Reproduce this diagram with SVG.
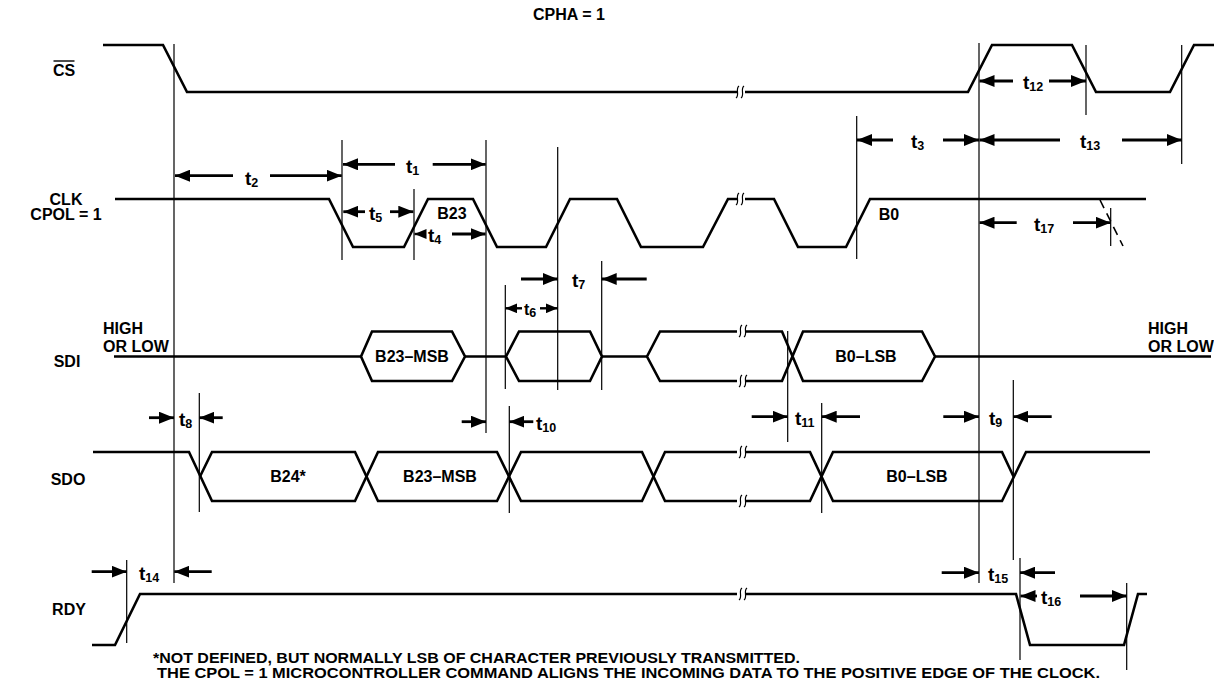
<svg xmlns="http://www.w3.org/2000/svg" width="1214" height="690" viewBox="0 0 1214 690">
<style>
.sig{fill:none;stroke:#000;stroke-width:2.6;stroke-linejoin:miter}
.ref{fill:none;stroke:#000;stroke-width:1.2}
.arr{fill:none;stroke:#000;stroke-width:2.8;marker-end:url(#ah)}
.arrs{fill:none;stroke:#000;stroke-width:2.4;marker-end:url(#ahs)}
.brk{fill:none;stroke:#000;stroke-width:1.2}
.gap{fill:#fff;stroke:none}
text{font-family:"Liberation Sans",Arial,sans-serif;font-weight:bold;fill:#000}
.lbl{font-size:16px}
.fn{font-size:14.5px}
.t{font-size:19px}
.sub{font-size:12.5px}
</style>
<defs>
<marker id="ah" markerUnits="userSpaceOnUse" markerWidth="15" markerHeight="12" refX="15" refY="6" orient="auto"><path d="M0,0 L15,6 L0,12 Z" fill="#000"/></marker>
<marker id="ahs" markerUnits="userSpaceOnUse" markerWidth="12" markerHeight="10" refX="12" refY="5" orient="auto"><path d="M0,0 L12,5 L0,10 Z" fill="#000"/></marker>
</defs>

<text class="lbl" x="569" y="20" text-anchor="middle">CPHA = 1</text>

<g id="sig-cs">
<text class="lbl" x="64" y="76" text-anchor="middle">CS</text>
<line x1="53.5" y1="61" x2="74.5" y2="61" stroke="#000" stroke-width="1.4"/>
<path class="sig" d="M103,45 L163,45 L187,92 L968,92 L992,45 L1072,45 L1096,92 L1170,92 L1194,45 L1214,45"/>
</g>

<g id="sig-clk">
<text class="lbl" x="66" y="205" text-anchor="middle">CLK</text>
<text class="lbl" x="66" y="220" text-anchor="middle">CPOL = 1</text>
<path class="sig" d="M115,199 L329,199 L353,247 L404,247 L428,199 L473,199 L497,247 L546,247 L570,199 L617,199 L641,247 L703,247 L728,199 L774,199 L798,247 L846,247 L870,199 L1146,199"/>
<path fill="none" stroke="#000" stroke-width="1.6" stroke-dasharray="9,6" d="M1100,200 L1123,246"/>
<text class="lbl" x="452" y="219" text-anchor="middle">B23</text>
<text class="lbl" x="889" y="220" text-anchor="middle">B0</text>
</g>

<g id="sig-sdi">
<text class="lbl" x="67" y="367" text-anchor="middle">SDI</text>
<text class="lbl" x="103" y="334">HIGH</text>
<text class="lbl" x="103" y="352">OR LOW</text>
<text class="lbl" x="1148" y="334">HIGH</text>
<text class="lbl" x="1148" y="352">OR LOW</text>
<path class="sig" d="M114,356.5 L361,356.5 M465,356.5 L506,356.5 M602,356.5 L647,356.5 M935,356.5 L1211,356.5"/>
<path class="sig" d="M361,356.5 L372,331.5 L452,331.5 L465,356.5 L452,381 L372,381 Z"/>
<path class="sig" d="M506,356.5 L519,331.5 L590,331.5 L602,356.5 L590,381 L519,381 Z"/>
<path class="sig" d="M647,356.5 L660,331.5 L782,331.5 L803,381 L922,381 L935,356.5 L922,331.5 L803,331.5 L782,381 L660,381 Z"/>
<text class="lbl" x="412" y="362" text-anchor="middle">B23–MSB</text>
<text class="lbl" x="866" y="362" text-anchor="middle">B0–LSB</text>
</g>

<g id="sig-sdo">
<text class="lbl" x="68" y="485" text-anchor="middle">SDO</text>
<path class="sig" d="M93,452 L189,452 L212,501 L355,501 L378,452 L497,452 L521,501 L642,501 L665,452 L810,452 L833,501 L1002,501 L1026,452 L1150,452"/>
<path class="sig" d="M200,476.5 L212,452 L355,452 L378,501 L497,501 L521,452 L642,452 L665,501 L810,501 L833,452 L1002,452 L1013.5,476.5"/>
<text class="lbl" x="288" y="482" text-anchor="middle">B24*</text>
<text class="lbl" x="440" y="482" text-anchor="middle">B23–MSB</text>
<text class="lbl" x="917" y="482" text-anchor="middle">B0–LSB</text>
</g>

<g id="sig-rdy">
<text class="lbl" x="69" y="615" text-anchor="middle">RDY</text>
<path class="sig" d="M92,645 L115,645 L140,594 L1016,594 L1030,645 L1124,645 L1138,594 L1147,594"/>
</g>

<g id="breaks">
<rect class="gap" x="737" y="86" width="8" height="12"/>
<rect class="gap" x="737" y="193" width="8" height="12"/>
<rect class="gap" x="737" y="325" width="8" height="12"/>
<rect class="gap" x="737" y="375" width="8" height="12"/>
<rect class="gap" x="737" y="446" width="8" height="12"/>
<rect class="gap" x="737" y="495" width="8" height="12"/>
<rect class="gap" x="737" y="588" width="8" height="12"/>
<path class="brk" d="M739,86 C735,89 740,95 736,98 M744,86 C740,89 745,95 741,98"/>
<path class="brk" d="M739,193 C735,196 740,202 736,205 M744,193 C740,196 745,202 741,205"/>
<path class="brk" d="M742,325 C738,328 743,334 739,337 M747,325 C743,328 748,334 744,337"/>
<path class="brk" d="M742,375 C738,378 743,384 739,387 M747,375 C743,378 748,384 744,387"/>
<path class="brk" d="M742,446 C738,449 743,455 739,458 M747,446 C743,449 748,455 744,458"/>
<path class="brk" d="M742,495 C738,498 743,504 739,507 M747,495 C743,498 748,504 744,507"/>
<path class="brk" d="M742,588 C738,591 743,597 739,600 M747,588 C743,591 748,597 744,600"/>
</g>

<g id="connectors">
<path class="ref" d="M174,44 V583 M342,140 V260 M414,189 V260 M486,140 V433 M199.3,393 V512 M505.3,285 V389 M557.7,147 V390 M601.7,261 V390 M509.3,406 V513 M787.7,331 V442 M821.7,403 V513 M856.7,116 V259 M979,43 V583 M1086,45 V115 M1181.7,45 V164 M1110.7,208 V246 M1013.3,380 V560 M1020,558 V660 M1126.7,583 V670 M126.7,560 V643"/>
<line class="arr" x1="233" y1="175.7" x2="175" y2="175.7"/>
<line class="arr" x1="270" y1="175.7" x2="341.7" y2="175.7"/>
<line class="arr" x1="395" y1="164.3" x2="343" y2="164.3"/>
<line class="arr" x1="432.7" y1="164.3" x2="485.7" y2="164.3"/>
<line class="arr" x1="365" y1="211.7" x2="343.3" y2="211.7"/>
<line class="arr" x1="390" y1="211.7" x2="413.3" y2="211.7"/>
<line class="arrs" x1="426" y1="234" x2="414.5" y2="234"/>
<line class="arr" x1="452" y1="234" x2="485.5" y2="234"/>
<line class="arr" x1="893" y1="140" x2="857" y2="140"/>
<line class="arr" x1="943" y1="140" x2="979" y2="140"/>
<line class="arr" x1="1060" y1="140" x2="979.5" y2="140"/>
<line class="arr" x1="1122" y1="140" x2="1181.7" y2="140"/>
<line class="arr" x1="1013" y1="81" x2="979.5" y2="81"/>
<line class="arr" x1="1049" y1="81" x2="1086" y2="81"/>
<line class="arr" x1="1016.7" y1="222.7" x2="979.5" y2="222.7"/>
<line class="arr" x1="1073" y1="222.7" x2="1110.7" y2="222.7"/>
<line class="arr" x1="521" y1="279" x2="557.7" y2="279"/>
<line class="arr" x1="646.7" y1="279" x2="601.7" y2="279"/>
<line class="arrs" x1="522" y1="308.3" x2="505.3" y2="308.3"/>
<line class="arrs" x1="540" y1="308.3" x2="557.7" y2="308.3"/>
<line class="arr" x1="149" y1="417.7" x2="174" y2="417.7"/>
<line class="arr" x1="222.7" y1="417.7" x2="199.3" y2="417.7"/>
<line class="arr" x1="461.7" y1="421.7" x2="486" y2="421.7"/>
<line class="arr" x1="533.3" y1="421.7" x2="509.3" y2="421.7"/>
<line class="arr" x1="751.7" y1="416.7" x2="787.7" y2="416.7"/>
<line class="arr" x1="860" y1="416.7" x2="821.7" y2="416.7"/>
<line class="arr" x1="943.3" y1="416.7" x2="979" y2="416.7"/>
<line class="arr" x1="1051.7" y1="416.7" x2="1013.3" y2="416.7"/>
<line class="arr" x1="91.7" y1="571.7" x2="126.7" y2="571.7"/>
<line class="arr" x1="211.7" y1="571.7" x2="174.3" y2="571.7"/>
<line class="arr" x1="941.7" y1="572.7" x2="979" y2="572.7"/>
<line class="arr" x1="1055" y1="572.7" x2="1020" y2="572.7"/>
<line class="arr" x1="1037" y1="596" x2="1020.5" y2="596"/>
<line class="arr" x1="1080" y1="596" x2="1126.7" y2="596"/>
</g>

<g id="labels">
<text class="t" x="245" y="185">t<tspan class="sub" dy="2">2</tspan></text>
<text class="t" x="406" y="173">t<tspan class="sub" dy="2">1</tspan></text>
<text class="t" x="369" y="220">t<tspan class="sub" dy="2">5</tspan></text>
<text class="t" x="428" y="242">t<tspan class="sub" dy="2">4</tspan></text>
<text class="t" x="911" y="148">t<tspan class="sub" dy="2">3</tspan></text>
<text class="t" x="1080" y="148">t<tspan class="sub" dy="2">13</tspan></text>
<text class="t" x="1023" y="89">t<tspan class="sub" dy="2">12</tspan></text>
<text class="t" x="1034" y="231">t<tspan class="sub" dy="2">17</tspan></text>
<text class="t" x="572" y="287">t<tspan class="sub" dy="2">7</tspan></text>
<text class="t" x="524" y="315" style="font-size:16px">t<tspan class="sub" dy="2">6</tspan></text>
<text class="t" x="179" y="426">t<tspan class="sub" dy="2">8</tspan></text>
<text class="t" x="536" y="430">t<tspan class="sub" dy="2">10</tspan></text>
<text class="t" x="795" y="425">t<tspan class="sub" dy="2">11</tspan></text>
<text class="t" x="989" y="425">t<tspan class="sub" dy="2">9</tspan></text>
<text class="t" x="139" y="580">t<tspan class="sub" dy="2">14</tspan></text>
<text class="t" x="988" y="581">t<tspan class="sub" dy="2">15</tspan></text>
<text class="t" x="1041" y="604">t<tspan class="sub" dy="2">16</tspan></text>
</g>

<g id="footnote">
<text class="fn" x="153" y="663" textLength="647" lengthAdjust="spacingAndGlyphs">*NOT DEFINED, BUT NORMALLY LSB OF CHARACTER PREVIOUSLY TRANSMITTED.</text>
<text class="fn" x="157" y="678" textLength="943" lengthAdjust="spacingAndGlyphs">THE CPOL = 1 MICROCONTROLLER COMMAND ALIGNS THE INCOMING DATA TO THE POSITIVE EDGE OF THE CLOCK.</text>
</g>
</svg>
